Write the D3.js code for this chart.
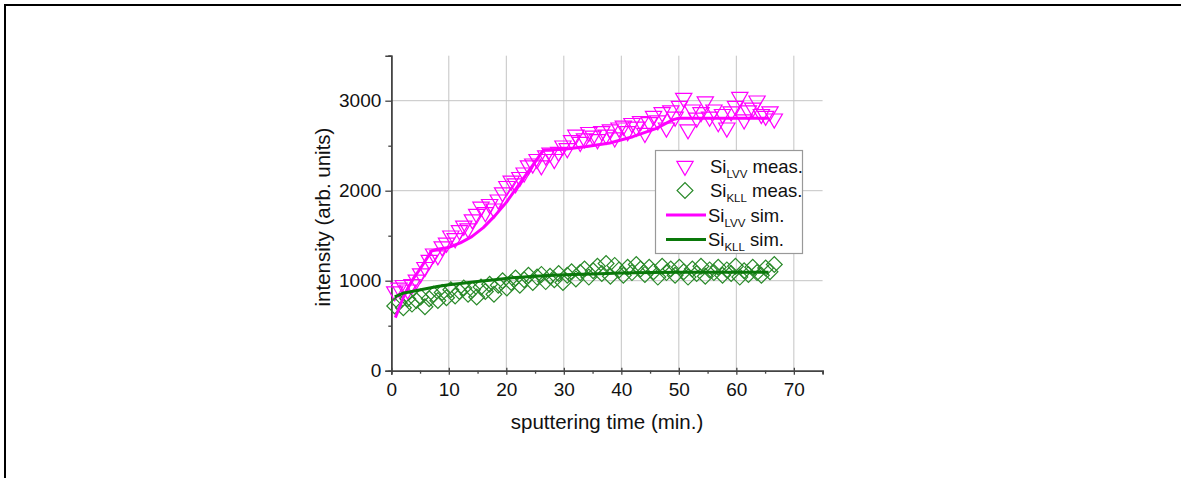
<!DOCTYPE html>
<html><head><meta charset="utf-8">
<script src="https://cdn.jsdelivr.net/npm/d3@7"></script>
<style>body{margin:0;background:#fff;}svg{display:block;font-family:"Liberation Sans",Arial,sans-serif;}</style>
</head><body>
<svg id="c" width="1181" height="478"></svg>
<script>
const xTicks = [0,10,20,30,40,50,60,70];
const yTicks = [0,1000,2000,3000];
const time = [0.6,1.35,2.1,2.85,3.6,4.35,5.1,5.85,6.6,7.35,8.1,8.85,9.6,10.35,11.1,11.85,12.6,13.35,14.1,14.85,15.6,16.35,17.1,17.85,18.6,19.35,20.1,20.85,21.6,22.35,23.1,23.85,24.6,25.35,26.1,26.85,27.6,28.35,29.1,29.85,30.6,31.35,32.1,32.85,33.6,34.35,35.1,35.85,36.6,37.35,38.1,38.85,39.6,40.35,41.1,41.85,42.6,43.35,44.1,44.85,45.6,46.35,47.1,47.85,48.6,49.35,50.1,50.85,51.6,52.35,53.1,53.85,54.6,55.35,56.1,56.85,57.6,58.35,59.1,59.85,60.6,61.35,62.1,62.85,63.6,64.35,65.1,65.85,66.6];
const lvvMeas = [880,920,950,900,960,1010,1080,1150,1230,1300,1280,1380,1420,1500,1470,1560,1610,1580,1680,1740,1820,1760,1850,1800,1900,1980,2050,2110,2080,2150,2200,2280,2300,2350,2280,2390,2420,2350,2430,2500,2470,2560,2620,2540,2580,2650,2610,2570,2660,2620,2680,2590,2700,2720,2660,2750,2710,2770,2640,2760,2830,2780,2870,2700,2890,2820,2940,3030,2680,2900,2810,2870,2990,2820,2900,2760,2850,2700,2880,2940,3040,2790,2890,2920,3000,2850,2830,2880,2800];
const kllMeas = [720,760,700,800,740,780,820,710,800,850,780,870,810,900,830,880,920,850,900,820,930,880,960,850,950,1000,920,980,1030,950,1010,1060,980,1040,1070,990,1050,1010,1080,980,1060,1100,1020,1090,1130,1040,1110,1160,1080,1190,1050,1170,1120,1060,1150,1090,1180,1130,1070,1150,1100,1040,1160,1090,1130,1060,1150,1100,1040,1130,1080,1160,1050,1120,1090,1150,1060,1120,1080,1160,1040,1110,1070,1150,1090,1060,1140,1100,1180];
const lvvSimT = [0.7,2,3,4,5,6,7,8,10,12,14,16,18,20,22,24,26,26.5,30,34,38,42,46,49,50,65.5];
const lvvSimV = [590,800,930,1040,1130,1230,1330,1350,1370,1420,1490,1590,1720,1870,2050,2230,2410,2450,2460,2490,2530,2600,2690,2790,2805,2805];
const kllSimT = [0.6,2,4,6,8,10,12,15,18,21,25,30,35,40,45,50,65.6];
const kllSimV = [820,860,885,910,935,955,970,990,1010,1033,1050,1065,1075,1085,1090,1093,1095];

const svg = d3.select("#c");
const magenta = "#ff00ff", greenM = "#2a8a2a", greenL = "#0a780a";
const FONT = "'Liberation Sans',Arial,sans-serif";
const x = d3.scaleLinear().domain([0,75]).range([391.3,822.6]);
const y = d3.scaleLinear().domain([0,3500]).range([370.7,55.7]);

// outer frame (top & left)
svg.append("line").attr("x1",4).attr("x2",1181).attr("y1",5).attr("y2",5).attr("stroke","#000").attr("stroke-width",2);
svg.append("line").attr("x1",5).attr("x2",5).attr("y1",4).attr("y2",478).attr("stroke","#000").attr("stroke-width",2);

// grid
const g = svg.append("g");
g.selectAll(".gx").data(xTicks.filter(d=>d>0)).join("line")
  .attr("x1",d=>x(d)).attr("x2",d=>x(d)).attr("y1",y(0)).attr("y2",y(3500))
  .attr("stroke","#c4c4c4").attr("stroke-width",1);
g.selectAll(".gy").data(yTicks.filter(d=>d>0)).join("line")
  .attr("x1",x(0)).attr("x2",x(75)).attr("y1",d=>y(d)).attr("y2",d=>y(d))
  .attr("stroke","#c4c4c4").attr("stroke-width",1);

// axes
const axCol = "#444";
const xAxis = svg.append("g").attr("transform",`translate(0,${y(0)})`)
  .call(d3.axisBottom(x).tickValues(xTicks).tickSize(4).tickPadding(8).tickFormat(d3.format("d")));
const xMinor = svg.append("g").attr("transform",`translate(0,${y(0)})`)
  .call(d3.axisBottom(x).tickValues(d3.range(5,80,10)).tickSize(3).tickFormat(""));
const yAxis = svg.append("g").attr("transform",`translate(${x(0)},0)`)
  .call(d3.axisLeft(y).tickValues(yTicks).tickSize(6).tickPadding(4).tickFormat(d3.format("d")));
const yMinor = svg.append("g").attr("transform",`translate(${x(0)},0)`)
  .call(d3.axisLeft(y).tickValues(d3.range(500,3600,1000)).tickSize(3).tickFormat(""));
[xAxis,xMinor,yAxis,yMinor].forEach(a=>{
  a.select(".domain").attr("stroke",axCol).attr("stroke-width",1.5);
  a.selectAll(".tick line").attr("stroke",axCol).attr("stroke-width",1.3);
  a.selectAll("text").attr("font-size",19).attr("fill","#111").attr("font-family",FONT);
});
xAxis.selectAll(".tick line").attr("y1",-3);

// measured markers
const tri = d3.symbol().type(d3.symbolTriangle).size(115);
const dia = d3.symbol().type(d3.symbolSquare).size(125);
const lvvPts = time.map((t,i)=>({t, v:lvvMeas[i]}));
const kllPts = time.map((t,i)=>({t, v:kllMeas[i]}));
svg.append("g").selectAll("path").data(lvvPts).join("path")
  .attr("d",tri).attr("transform",d=>`translate(${x(d.t)},${y(d.v)}) rotate(180)`)
  .attr("fill","none").attr("stroke",magenta).attr("stroke-width",1.2);
svg.append("g").selectAll("path").data(kllPts).join("path")
  .attr("d",dia).attr("transform",d=>`translate(${x(d.t)},${y(d.v)}) rotate(45)`)
  .attr("fill","none").attr("stroke",greenM).attr("stroke-width",1.2);

// sim lines
const line = d3.line().x(d=>x(d[0])).y(d=>y(d[1]));
svg.append("path").datum(lvvSimT.map((t,i)=>[t,lvvSimV[i]])).attr("d",line)
  .attr("fill","none").attr("stroke",magenta).attr("stroke-width",3).attr("stroke-linejoin","round");
svg.append("path").datum(kllSimT.map((t,i)=>[t,kllSimV[i]])).attr("d",line)
  .attr("fill","none").attr("stroke",greenL).attr("stroke-width",3).attr("stroke-linejoin","round");

// axis titles
svg.append("text").attr("x",607).attr("y",429).attr("text-anchor","middle").attr("font-size",20.5).attr("fill","#111").text("sputtering time (min.)");
svg.append("text").attr("transform","translate(330,217) rotate(-90)").attr("text-anchor","middle").attr("font-size",20.5).attr("fill","#111").text("intensity (arb. units)");

// legend
const leg = svg.append("g");
leg.append("rect").attr("x",655.5).attr("y",150.5).attr("width",147).attr("height",103)
  .attr("fill","#fff").attr("stroke","#999").attr("stroke-width",1.2);
const items = [
  {sub:"LVV", rest:" meas.", kind:"tri"},
  {sub:"KLL", rest:" meas.", kind:"dia"},
  {sub:"LVV", rest:" sim.", kind:"lm"},
  {sub:"KLL", rest:" sim.", kind:"lg"}
];
items.forEach((it,i)=>{
  const cy = 166 + i*24.5;
  if(it.kind==="tri") leg.append("path").attr("d",tri).attr("transform",`translate(685,${cy}) rotate(180)`).attr("fill","none").attr("stroke",magenta).attr("stroke-width",1.2);
  if(it.kind==="dia") leg.append("path").attr("d",dia).attr("transform",`translate(685,${cy}) rotate(45)`).attr("fill","none").attr("stroke",greenM).attr("stroke-width",1.2);
  if(it.kind==="lm") leg.append("line").attr("x1",666).attr("x2",706).attr("y1",cy).attr("y2",cy).attr("stroke",magenta).attr("stroke-width",3);
  if(it.kind==="lg") leg.append("line").attr("x1",666).attr("x2",706).attr("y1",cy).attr("y2",cy).attr("stroke",greenL).attr("stroke-width",3);
  const t = leg.append("text").attr("x",it.kind.startsWith("l")?708:710).attr("y",cy+6.5).attr("font-size",18.5).attr("fill","#111");
  t.append("tspan").text("Si");
  t.append("tspan").attr("font-size",11.5).attr("dy",5).text(it.sub);
  t.append("tspan").attr("dy",-5).text(it.rest);
});
</script>
</body></html>
